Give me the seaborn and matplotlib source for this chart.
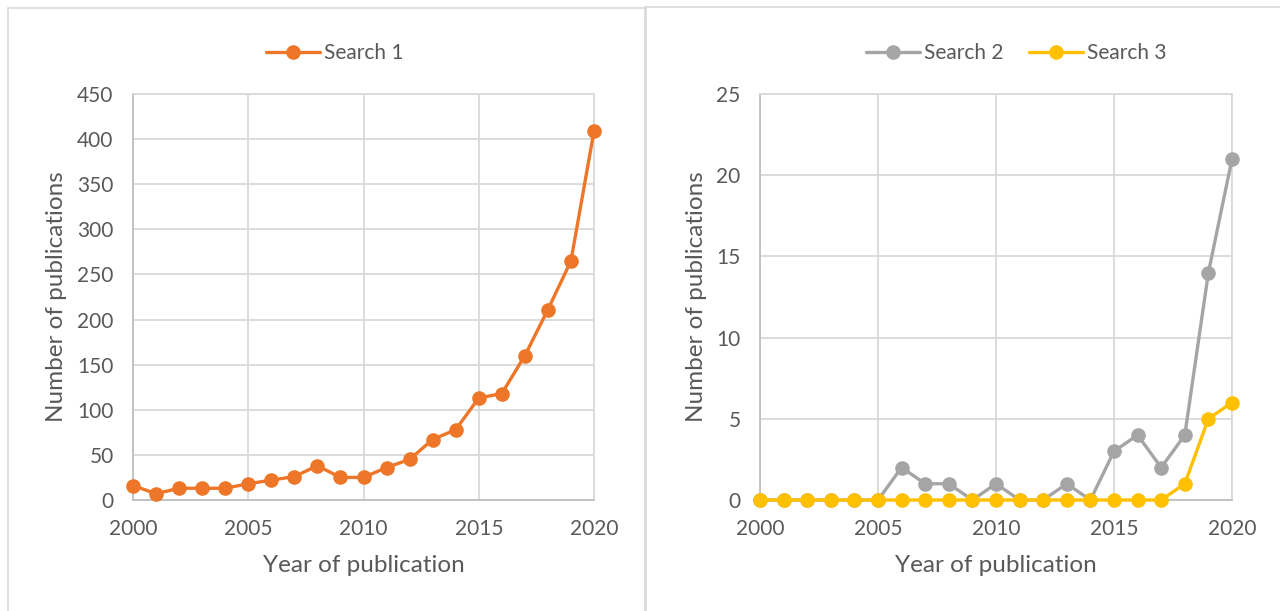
import numpy as np
import pandas as pd
import matplotlib
matplotlib.use("Agg")
import matplotlib.pyplot as plt
from matplotlib.patches import Rectangle
import seaborn as sns

# ============================================================
# DATA
# ============================================================

years = list(range(2000, 2021))
search1 = [16, 7, 13, 13, 13, 18, 22, 26, 38, 25, 25, 36, 45, 67, 78, 113, 118, 160, 211, 265, 409]
search2 = [0, 0, 0, 0, 0, 0, 2, 1, 1, 0, 1, 0, 0, 1, 0, 3, 4, 2, 4, 14, 21]
search3 = [0, 0, 0, 0, 0, 0, 0, 0, 0, 0, 0, 0, 0, 0, 0, 0, 0, 0, 1, 5, 6]

x_ticks = [2000, 2005, 2010, 2015, 2020]
y_ticks_left = [0, 50, 100, 150, 200, 250, 300, 350, 400, 450]
y_ticks_right = [0, 5, 10, 15, 20, 25]

ORANGE = "#EE7628"
GRAY = "#A5A5A5"
GOLD = "#FFC000"
TXT = "#595959"
GRID = "#D9D9D9"

sns.set_theme(style="white")
plt.rcParams["font.family"] = ["Lato", "DejaVu Sans"]

df1 = pd.DataFrame({"year": years, "count": search1, "series": "Search 1"})
df23 = pd.concat([
    pd.DataFrame({"year": years, "count": search2, "series": "Search 2"}),
    pd.DataFrame({"year": years, "count": search3, "series": "Search 3"}),
])

fig = plt.figure(figsize=(12.8, 6.11), dpi=100)

# okviri dva Excel grafa
fig.patches.append(Rectangle((8 / 1280, -0.05), 638 / 1280, 1 - 8 / 611 + 0.05,
                             transform=fig.transFigure, fill=False,
                             edgecolor=GRID, linewidth=1.2))
fig.patches.append(Rectangle((645 / 1280, -0.05), 640 / 1280, 1 - 7 / 611 + 0.05,
                             transform=fig.transFigure, fill=False,
                             edgecolor=GRID, linewidth=1.2))

ax1 = fig.add_axes([133 / 1280, 1 - 500 / 611, 461 / 1280, 406 / 611])
ax2 = fig.add_axes([760 / 1280, 1 - 500 / 611, 472 / 1280, 406 / 611])

sns.lineplot(data=df1, x="year", y="count", hue="series", palette=[ORANGE],
             marker="o", markersize=10.5, markeredgewidth=0, linewidth=2.4,
             ax=ax1, zorder=3, clip_on=False)
sns.lineplot(data=df23, x="year", y="count", hue="series", palette=[GRAY, GOLD],
             marker="o", markersize=10.5, markeredgewidth=0, linewidth=2.4,
             ax=ax2, zorder=3, clip_on=False)

for ax, yt in [(ax1, y_ticks_left), (ax2, y_ticks_right)]:
    ax.set_xlim(2000, 2020)
    ax.set_ylim(yt[0], yt[-1])
    ax.set_xticks(x_ticks)
    ax.set_yticks(yt)
    ax.grid(True, color=GRID, linewidth=1.3)
    ax.set_axisbelow(True)
    for s in ax.spines.values():
        s.set_color(GRID)
        s.set_linewidth(1.3)
    ax.spines["left"].set_color("#BFBFBF")
    ax.spines["bottom"].set_color("#BFBFBF")
    ax.tick_params(axis="both", length=0, labelsize=15, labelcolor=TXT)
    ax.tick_params(axis="y", pad=14)
    ax.tick_params(axis="x", pad=14)
    ax.set_xlabel("Year of publication", fontsize=17.5, color=TXT, labelpad=11)
    ax.set_ylabel("Number of publications", fontsize=17.5, color=TXT, labelpad=7)

ax1.legend(loc="center", bbox_to_anchor=(335 / 1280, 1 - 53 / 611),
           bbox_transform=fig.transFigure, frameon=False, fontsize=15,
           labelcolor=TXT, handlelength=2.6, handletextpad=0.2, title=None)
ax2.legend(loc="center", bbox_to_anchor=(1016 / 1280, 1 - 53 / 611),
           bbox_transform=fig.transFigure, frameon=False, fontsize=15,
           labelcolor=TXT, handlelength=2.6, handletextpad=0.2, ncol=2,
           columnspacing=1.2, title=None)

fig.savefig("out.png", dpi=100, facecolor="white")
